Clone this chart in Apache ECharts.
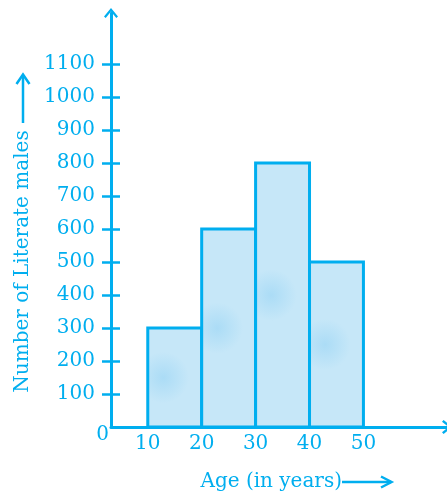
<!DOCTYPE html>
<html><head><meta charset="utf-8">
<script src="https://cdn.jsdelivr.net/npm/echarts@6/dist/echarts.min.js"></script>
<style>html,body{margin:0;padding:0;background:#fff}#c{width:447px;height:493px}</style>
</head><body><div id="c"></div>
<script>
// ---- data ----
const binStarts = [10, 20, 30, 40];
const binEnds = [20, 30, 40, 50];
const counts = [300, 600, 800, 500];
const xTickLabels = [10, 20, 30, 40, 50];
const yTickLabels = [100, 200, 300, 400, 500, 600, 700, 800, 900, 1000, 1100];
const originLabel = '0';
const yAxisTitle = 'Number of Literate males';
const xAxisTitle = 'Age (in years)';

// ---- style ----
const C = '#00aeef';
const FONT = 'DejaVu Serif';
const FS = 20;
const X_MIN = 3.18, X_MAX = 65.5, Y_MAX = 1255;
const chevron = 'path://M7,0 L14,8.4 L12.3,10 L7,3.4 L1.7,10 L0,8.4 Z';

const chart = echarts.init(document.getElementById('c'), null, {renderer: 'canvas'});
const data = binStarts.map((s, i) => [s, binEnds[i], counts[i]]);
const plain = v => String(v);

const yBase = {
  type: 'value', min: 0, max: Y_MAX, position: 'left',
  splitLine: {show: false}
};

chart.setOption({
  animation: false,
  grid: {left: 111, top: 13, width: 338, bottom: 66, containLabel: false},
  xAxis: {
    type: 'value', min: X_MIN, max: X_MAX,
    axisLine: {show: true, lineStyle: {color: C, width: 3}, symbol: ['none', chevron], symbolSize: [14, 10]},
    axisTick: {show: false},
    splitLine: {show: false},
    axisLabel: {customValues: xTickLabels, formatter: plain, color: C, fontFamily: FONT, fontSize: FS, margin: 7}
  },
  yAxis: [
    Object.assign({}, yBase, {
      axisLine: {show: true, lineStyle: {color: C, width: 3}, symbol: ['none', chevron], symbolSize: [14, 10]},
      axisTick: {show: true, customValues: yTickLabels, length: 9, inside: false, lineStyle: {color: C, width: 2.5}},
      axisLabel: {customValues: yTickLabels, formatter: plain, color: C, fontFamily: FONT, fontSize: FS, margin: 16}
    }),
    Object.assign({}, yBase, {
      axisLine: {show: false},
      axisTick: {show: true, customValues: yTickLabels, length: 9, inside: true, lineStyle: {color: C, width: 2.5}},
      axisLabel: {show: false}
    })
  ],
  series: [{
    type: 'custom',
    xAxisIndex: 0, yAxisIndex: 0,
    encode: {x: [0, 1], y: 2},
    data: data,
    renderItem: function (params, api) {
      const p0 = api.coord([api.value(0), 0]);
      const p1 = api.coord([api.value(1), api.value(2)]);
      return {
        type: 'rect',
        shape: {x: p0[0], y: p1[1], width: p1[0] - p0[0], height: p0[1] - p1[1]},
        style: {
          fill: {
            type: 'radial', x: 0.3, y: 0.5, r: 0.45,
            colorStops: [{offset: 0, color: '#abdcf6'}, {offset: 1, color: '#c6e7f8'}]
          },
          stroke: C, lineWidth: 3
        }
      };
    }
  }]
});

const o = chart.convertToPixel({gridIndex: 0}, [X_MIN, 0]);
const F = FS + 'px "' + FONT + '"';
chart.setOption({
  graphic: [
    {type: 'text', x: o[0] - 8.5, y: o[1] + 8,
      style: {text: originLabel, fill: C, font: F, align: 'center', verticalAlign: 'middle'}},
    {type: 'text', x: 23, y: 261.5, rotation: Math.PI / 2,
      style: {text: yAxisTitle, fill: C, font: F, align: 'center', verticalAlign: 'middle'}},
    {type: 'polyline', shape: {points: [[23, 123], [23, 75]]}, style: {stroke: C, lineWidth: 2.5}},
    {type: 'polyline', shape: {points: [[16.5, 84], [23, 74.5], [29.5, 84]]}, style: {stroke: C, lineWidth: 2.5, fill: null}},
    {type: 'text', x: 342, y: 482,
      style: {text: xAxisTitle, fill: C, font: F, align: 'right', verticalAlign: 'middle'}},
    {type: 'polyline', shape: {points: [[342, 482], [391, 482]]}, style: {stroke: C, lineWidth: 2.5}},
    {type: 'polyline', shape: {points: [[381, 476.5], [391.5, 482], [381, 487.5]]}, style: {stroke: C, lineWidth: 2.5, fill: null}}
  ]
});
</script></body></html>
